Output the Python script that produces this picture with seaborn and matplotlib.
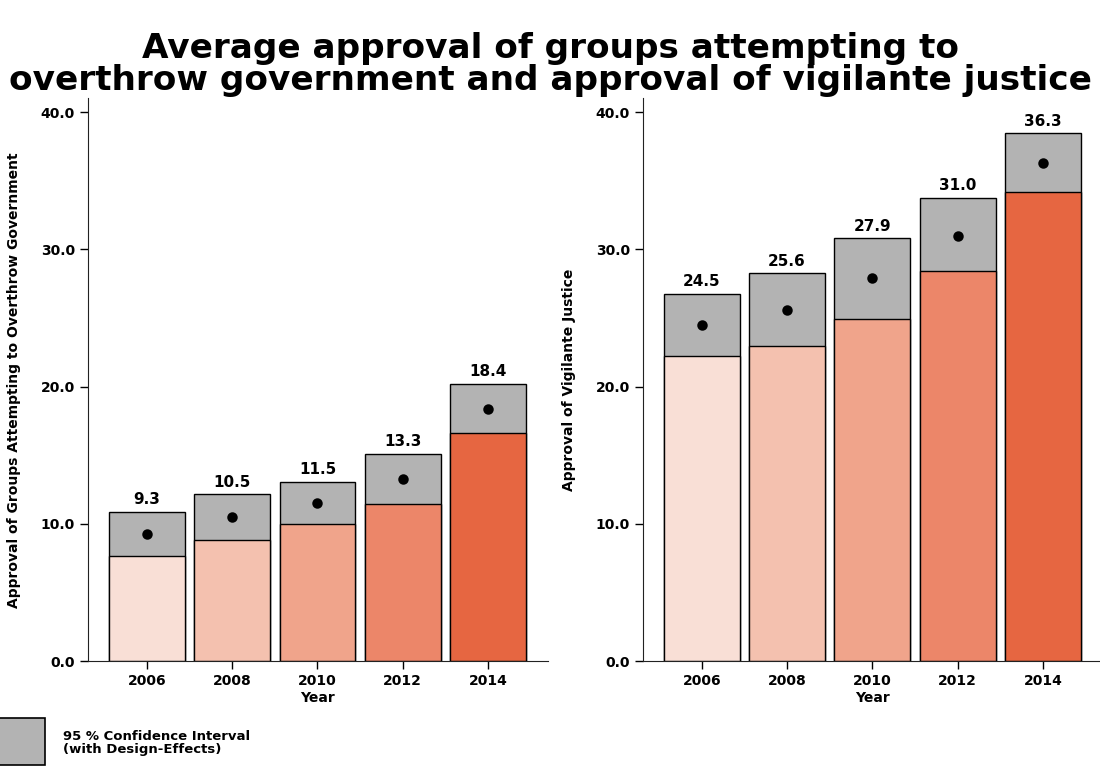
import matplotlib
matplotlib.use("Agg")
import matplotlib.pyplot as plt
from matplotlib.patches import Rectangle
import pandas as pd
import seaborn as sns

years = ["2006", "2008", "2010", "2012", "2014"]

overthrow_mean = [9.3, 10.5, 11.5, 13.3, 18.4]
overthrow_low = [7.7, 8.8, 10.0, 11.45, 16.6]
overthrow_high = [10.85, 12.15, 13.05, 15.1, 20.2]

vigilante_mean = [24.5, 25.6, 27.9, 31.0, 36.3]
vigilante_low = [22.2, 22.95, 24.95, 28.4, 34.15]
vigilante_high = [26.75, 28.25, 30.8, 33.75, 38.45]

bar_colors = ["#f9dfd6", "#f4c1af", "#f0a48b", "#ec8669", "#e66641"]
ci_color = "#b3b3b3"

sns.set_style("ticks")
plt.rcParams['font.family'] = ['DejaVu Sans']
plt.rcParams['font.weight'] = 'bold'
plt.rcParams['text.color'] = 'black'
plt.rcParams['axes.labelcolor'] = 'black'


def plot_panel(ax, mean, low, high, ylabel):
    df = pd.DataFrame({"Year": years, "mean": mean, "low": low, "high": high})
    sns.barplot(data=df, x="Year", y="high", color=ci_color, width=0.89,
                edgecolor="black", linewidth=1, ax=ax, saturation=1)
    sns.barplot(data=df, x="Year", y="low", hue="Year", palette=bar_colors,
                width=0.89, edgecolor="black", linewidth=1, ax=ax,
                saturation=1, legend=False)
    sns.pointplot(data=df, x="Year", y="mean", color="black", linestyle="none",
                  markers="o", markersize=5.5, ax=ax)
    for i, (m, h) in enumerate(zip(mean, high)):
        ax.text(i, h + 0.35, f"{m:.1f}", ha="center", va="bottom",
                fontsize=11, fontweight="bold", color="black")
    ax.set_ylim(0, 41)
    ax.set_xlim(-0.69, 4.7)
    ax.set_yticks([0, 10, 20, 30, 40])
    ax.set_yticklabels([f"{v:.1f}" for v in [0, 10, 20, 30, 40]])
    ax.tick_params(labelsize=10, length=6, width=1, colors="black")
    ax.set_xlabel("Year", fontsize=10, fontweight="bold", labelpad=2)
    ax.set_ylabel(ylabel, fontsize=10, fontweight="bold", labelpad=14)
    for s in ["top", "right"]:
        ax.spines[s].set_visible(False)
    for s in ["left", "bottom"]:
        ax.spines[s].set_color("#222222")


fig = plt.figure(figsize=(11, 7.68), dpi=100)
ax1 = fig.add_axes([0.08, 0.139, 0.418, 0.733])
ax2 = fig.add_axes([0.5845, 0.139, 0.418, 0.733])

plot_panel(ax1, overthrow_mean, overthrow_low, overthrow_high,
           "Approval of Groups Attempting to Overthrow Government")
plot_panel(ax2, vigilante_mean, vigilante_low, vigilante_high,
           "Approval of Vigilante Justice")

fig.suptitle("Average approval of groups attempting to\n"
             "overthrow government and approval of vigilante justice",
             fontsize=24.7, fontweight="bold", y=0.958, va="top",
             linespacing=0.95, color="black")

fig.add_artist(Rectangle((-0.002, 0.004), 0.043, 0.061, transform=fig.transFigure,
                         facecolor=ci_color, edgecolor="black", linewidth=1.2))
fig.text(0.057, 0.033, "95 % Confidence Interval\n(with Design-Effects)",
         fontsize=9.5, fontweight="bold", va="center", ha="left", linespacing=1.0)

fig.savefig("out.png", dpi=100)
